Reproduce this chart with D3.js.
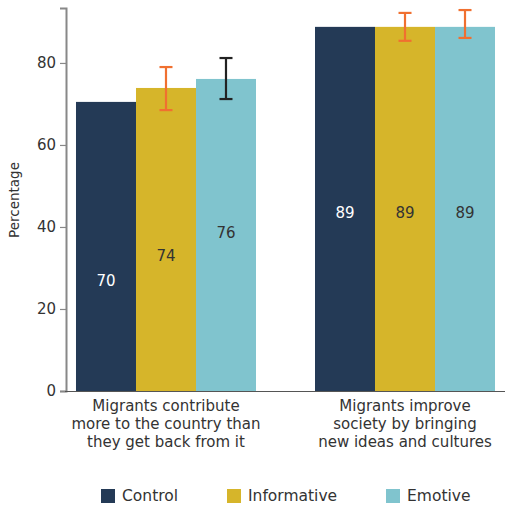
<!DOCTYPE html>
<html><head><meta charset="utf-8">
<script src="https://cdn.jsdelivr.net/npm/d3@7"></script>
<style>body{margin:0;background:#fff}</style>
</head><body>
<script>
const categories = [
  ["Migrants contribute", "more to the country than", "they get back from it"],
  ["Migrants improve", "society by bringing", "new ideas and cultures"]
];
const seriesNames = ["Control", "Informative", "Emotive"];
const seriesColors = ["#243a56", "#d6b52a", "#80c4ce"];
const control = [70.5, 88.8];
const informative = [73.9, 88.8];
const emotive = [76.1, 88.8];
const labels = [["70","74","76"],["89","89","89"]];
const errLow = [[null, 68.5, 71.2],[null, 85.4, 86.1]];
const errHigh = [[null, 79.0, 81.2],[null, 92.2, 92.9]];
const errColors = [[null, "#f07030", "#222222"],[null, "#f07030", "#f07030"]];
const yTicks = [0, 20, 40, 60, 80];

const FONT = "'DejaVu Sans', sans-serif";
const W = 507, H = 508;
const svg = d3.select("body").append("svg").attr("width", W).attr("height", H)
  .style("font-family", FONT);

const y = d3.scaleLinear().domain([0, 93.4]).range([391, 8]);
const x0 = d3.scaleBand().domain([0, 1]).range([66, 505]).paddingInner(0.2469).paddingOuter(0.0418);
const x1 = d3.scaleBand().domain([0, 1, 2]).range([0, x0.bandwidth()]);

const values = [control, informative, emotive];
const labelPos = [[26.8, 32.7, 38.3], [43.2, 43.2, 43.2]];
const labelColors = ["#ffffff", "#333333", "#333333"];

for (let g = 0; g < 2; g++) {
  for (let s = 0; s < 3; s++) {
    const v = values[s][g];
    const bx = x0(g) + x1(s);
    svg.append("rect").attr("x", bx).attr("y", y(v)).attr("width", x1.bandwidth())
      .attr("height", y(0) - y(v)).attr("fill", seriesColors[s]);
    svg.append("text").attr("x", bx + x1.bandwidth() / 2).attr("y", y(labelPos[g][s]))
      .attr("text-anchor", "middle").attr("dominant-baseline", "middle")
      .attr("font-size", 15).attr("fill", labelColors[s]).text(labels[g][s]);
    if (errLow[g][s] != null) {
      const cx = bx + x1.bandwidth() / 2;
      const eg = svg.append("g").attr("stroke", errColors[g][s]).attr("stroke-width", 2.2);
      eg.append("line").attr("x1", cx).attr("x2", cx).attr("y1", y(errLow[g][s])).attr("y2", y(errHigh[g][s]));
      eg.append("line").attr("x1", cx - 6.5).attr("x2", cx + 6.5).attr("y1", y(errLow[g][s])).attr("y2", y(errLow[g][s]));
      eg.append("line").attr("x1", cx - 6.5).attr("x2", cx + 6.5).attr("y1", y(errHigh[g][s])).attr("y2", y(errHigh[g][s]));
    }
  }
}

// axes
const yAxis = svg.append("g").attr("transform", "translate(66,0)")
  .call(d3.axisLeft(y).tickValues(yTicks).tickSize(6).tickPadding(4));
yAxis.select(".domain").attr("stroke", "#888").attr("stroke-width", 2);
yAxis.selectAll(".tick line").attr("stroke", "#888").attr("stroke-width", 1.2);
yAxis.selectAll(".tick text").attr("font-size", 15).attr("fill", "#333").style("font-family", FONT);

svg.append("line").attr("x1", 65).attr("x2", 505).attr("y1", 391.5).attr("y2", 391.5)
  .attr("stroke", "#555").attr("stroke-width", 1.2);

svg.append("text").attr("transform", "translate(19,200) rotate(-90)")
  .attr("text-anchor", "middle").attr("font-size", 13.5).attr("fill", "#333").text("Percentage");

categories.forEach((lines, g) => {
  lines.forEach((l, i) => svg.append("text").attr("x", x0(g) + x0.bandwidth() / 2).attr("y", 411 + i * 18)
    .attr("text-anchor", "middle").attr("font-size", 15).attr("fill", "#333").text(l));
});

// legend
const legX = [101, 227, 386];
seriesNames.forEach((n, i) => {
  svg.append("rect").attr("x", legX[i]).attr("y", 489).attr("width", 14).attr("height", 14).attr("fill", seriesColors[i]);
  svg.append("text").attr("x", legX[i] + 21).attr("y", 501).attr("font-size", 15.5).attr("fill", "#333").text(n);
});
</script>
</body></html>
